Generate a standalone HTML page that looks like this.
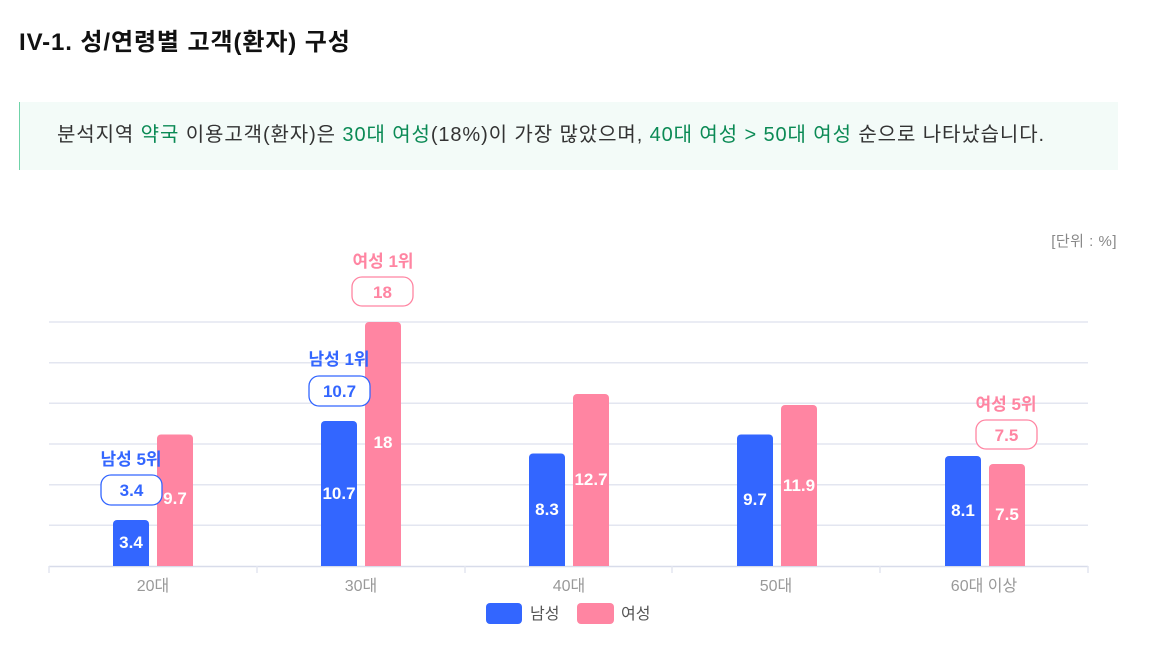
<!DOCTYPE html>
<html><head><meta charset="utf-8"><style>
body{margin:0;width:1152px;height:666px;background:#fff;overflow:hidden;font-family:"Liberation Sans","Noto Sans CJK KR",sans-serif}
h1{position:absolute;left:19px;top:27px;margin:0;font-size:24px;letter-spacing:0.9px;font-weight:bold;color:#111;line-height:32px;white-space:nowrap}
.box{position:absolute;left:19px;top:102px;width:1098px;height:68px;background:#f3fbf8;border-left:1px solid #6fd3a8}
.box p{margin:0;position:absolute;left:37px;top:19px;font-size:20px;letter-spacing:0.9px;color:#333;line-height:28px;white-space:nowrap}
.g{color:#0b8a55}
svg{position:absolute;left:0;top:0}
text{font-family:"Liberation Sans","Noto Sans CJK KR",sans-serif}
</style></head><body>
<h1>IV-1. 성/연령별 고객(환자) 구성</h1>
<div class="box"><p>분석지역 <span class="g">약국</span> 이용고객(환자)은 <span class="g">30대 여성</span>(18%)이 가장 많았으며, <span class="g">40대 여성 &gt; 50대 여성</span> 순으로 나타났습니다.</p></div>
<svg width="1152" height="666">
<text x="1117" y="246" text-anchor="end" font-size="15" fill="#888" letter-spacing="0.5">[단위 : %]</text>
<g stroke="#e3e6f0" stroke-width="1.5">
<line x1="49" x2="1088" y1="322" y2="322"/><line x1="49" x2="1088" y1="362.7" y2="362.7"/><line x1="49" x2="1088" y1="403.3" y2="403.3"/><line x1="49" x2="1088" y1="444" y2="444"/><line x1="49" x2="1088" y1="484.7" y2="484.7"/><line x1="49" x2="1088" y1="525.3" y2="525.3"/>
<line x1="49" x2="1088" y1="566.5" y2="566.5" stroke="#d8dcea"/>
<line x1="49" x2="49" y1="566" y2="573"/><line x1="257" x2="257" y1="566" y2="573"/><line x1="465" x2="465" y1="566" y2="573"/><line x1="672" x2="672" y1="566" y2="573"/><line x1="880" x2="880" y1="566" y2="573"/><line x1="1088" x2="1088" y1="566" y2="573"/>
</g>
<g fill="#3366ff">
<path d="M113 566V524a4 4 0 0 1 4-4h28a4 4 0 0 1 4 4V566Z"/>
<path d="M321 566V425a4 4 0 0 1 4-4h28a4 4 0 0 1 4 4V566Z"/>
<path d="M529 566V457.5a4 4 0 0 1 4-4h28a4 4 0 0 1 4 4V566Z"/>
<path d="M737 566V438.5a4 4 0 0 1 4-4h28a4 4 0 0 1 4 4V566Z"/>
<path d="M945 566V460a4 4 0 0 1 4-4h28a4 4 0 0 1 4 4V566Z"/>
</g>
<g fill="#ff85a2">
<path d="M157 566V438.5a4 4 0 0 1 4-4h28a4 4 0 0 1 4 4V566Z"/>
<path d="M365 566V326a4 4 0 0 1 4-4h28a4 4 0 0 1 4 4V566Z"/>
<path d="M573 566V398a4 4 0 0 1 4-4h28a4 4 0 0 1 4 4V566Z"/>
<path d="M781 566V409a4 4 0 0 1 4-4h28a4 4 0 0 1 4 4V566Z"/>
<path d="M989 566V468a4 4 0 0 1 4-4h28a4 4 0 0 1 4 4V566Z"/>
</g>
<g fill="#fff" font-size="17" font-weight="bold" text-anchor="middle">
<text x="131" y="548">3.4</text><text x="175" y="504">9.7</text>
<text x="339" y="499">10.7</text><text x="383" y="448">18</text>
<text x="547" y="515">8.3</text><text x="591" y="485">12.7</text>
<text x="755" y="505">9.7</text><text x="799" y="491">11.9</text>
<text x="963" y="516">8.1</text><text x="1007" y="520">7.5</text>
</g>
<g font-size="17" font-weight="bold" text-anchor="middle">
<text x="131" y="465" fill="#3366ff">남성 5위</text>
<rect x="101" y="475" width="61" height="30" rx="10" fill="#fff" stroke="#3366ff" stroke-width="1.3"/>
<text x="131.5" y="496" fill="#3366ff">3.4</text>
<text x="339" y="365" fill="#3366ff">남성 1위</text>
<rect x="309" y="376" width="61" height="30" rx="10" fill="#fff" stroke="#3366ff" stroke-width="1.3"/>
<text x="339.5" y="397" fill="#3366ff">10.7</text>
<text x="383" y="267" fill="#ff85a2">여성 1위</text>
<rect x="352" y="277" width="61" height="29" rx="10" fill="#fff" stroke="#ff85a2" stroke-width="1.3"/>
<text x="382.5" y="298" fill="#ff85a2">18</text>
<text x="1006" y="410" fill="#ff85a2">여성 5위</text>
<rect x="976" y="420" width="61" height="29" rx="10" fill="#fff" stroke="#ff85a2" stroke-width="1.3"/>
<text x="1006.5" y="441" fill="#ff85a2">7.5</text>
</g>
<g font-size="16" fill="#999" text-anchor="middle">
<text x="153" y="591">20대</text><text x="361" y="591">30대</text><text x="569" y="591">40대</text><text x="776" y="591">50대</text><text x="984" y="591">60대 이상</text>
</g>
<rect x="486" y="603" width="36" height="21" rx="4" fill="#3366ff"/>
<text x="530" y="619" font-size="16" fill="#555">남성</text>
<rect x="577" y="603" width="37" height="21" rx="4" fill="#ff85a2"/>
<text x="621" y="619" font-size="16" fill="#555">여성</text>
</svg>
</body></html>
